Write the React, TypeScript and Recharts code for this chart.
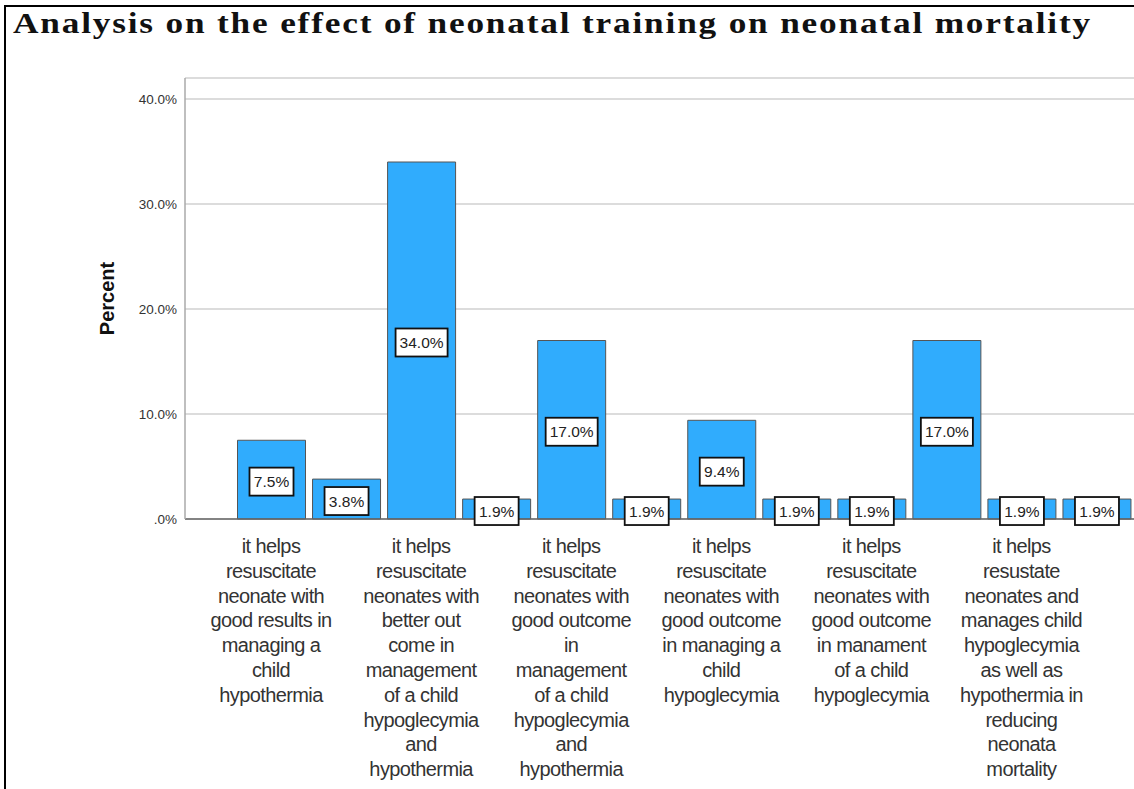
import { Bar, BarChart, CartesianGrid, LabelList, XAxis, YAxis } from 'recharts';

// category wording, one entry per bar; blank entries are categories whose label is skipped on the axis
const categoryLines: string[][] = [
  ['it helps', 'resuscitate', 'neonate with', 'good results in', 'managing a', 'child', 'hypothermia'],
  [],
  ['it helps', 'resuscitate', 'neonates with', 'better out', 'come in', 'management', 'of a child', 'hypoglecymia', 'and', 'hypothermia'],
  [],
  ['it helps', 'resuscitate', 'neonates with', 'good outcome', 'in', 'management', 'of a child', 'hypoglecymia', 'and', 'hypothermia'],
  [],
  ['it helps', 'resuscitate', 'neonates with', 'good outcome', 'in managing a', 'child', 'hypoglecymia'],
  [],
  ['it helps', 'resuscitate', 'neonates with', 'good outcome', 'in manament', 'of a child', 'hypoglecymia'],
  [],
  ['it helps', 'resustate', 'neonates and', 'manages child', 'hypoglecymia', 'as well as', 'hypothermia in', 'reducing', 'neonata', 'mortality'],
  [],
];

const percents = [7.5, 3.8, 34.0, 1.9, 17.0, 1.9, 9.4, 1.9, 1.9, 17.0, 1.9, 1.9];

const yTicks = [0, 10, 20, 30, 40];

const data = percents.map((p, i) => ({
  key: 'c' + i,
  lines: categoryLines[i],
  percent: p,
}));

const fmtPct = (v: number) => (v === 0 ? '.0%' : v.toFixed(1) + '%');

const CategoryTick = (props: any) => {
  const { x, y, index } = props;
  const lines: string[] = categoryLines[index] || [];
  return (
    <text
      x={x}
      y={y}
      textAnchor="middle"
      fill="#333"
      fontFamily="'Liberation Sans', Arial, sans-serif"
      fontSize={20}
      letterSpacing={-0.6}
    >
      {lines.map((l, i) => (
        <tspan key={i} x={x} y={y + 26 + i * 24.8}>
          {l}
        </tspan>
      ))}
    </text>
  );
};

const ValueBox = (props: any) => {
  const { x, y, width, height, value } = props;
  const text = fmtPct(Number(value));
  const cx = x + width / 2;
  const cy = y + height / 2 + 2;
  const w = text.length * 8 + 12;
  const h = 28;
  return (
    <g>
      <rect x={cx - w / 2} y={cy - h / 2} width={w} height={h} fill="#fff" stroke="#111" strokeWidth={1.8} />
      <text
        x={cx}
        y={cy + 5.5}
        textAnchor="middle"
        fill="#222"
        fontFamily="'Liberation Sans', Arial, sans-serif"
        fontSize={15.5}
      >
        {text}
      </text>
    </g>
  );
};

export default function App() {
  return (
    <div
      style={{
        position: 'fixed',
        left: 0,
        top: 0,
        width: 1134,
        height: 789,
        overflow: 'hidden',
        background: '#fff',
      }}
    >
      <BarChart
        width={1134}
        height={789}
        data={data}
        margin={{ top: 78, right: 0, left: 105, bottom: 0 }}
      >
        <CartesianGrid vertical={false} stroke="#d0d0d0" strokeWidth={1.5} />
        <XAxis
          dataKey="key"
          interval={0}
          tick={<CategoryTick />}
          tickLine={false}
          axisLine={{ stroke: '#666', strokeWidth: 1.5 }}
          padding={{ left: 48.5, right: 0 }}
          height={270}
        />
        <YAxis
          domain={[0, 42]}
          ticks={yTicks}
          tickFormatter={fmtPct}
          tickLine={false}
          axisLine={{ stroke: '#aaa', strokeWidth: 1.5 }}
          width={80}
          tick={{ fill: '#333', fontSize: 13.5, fontFamily: "'Liberation Sans', Arial, sans-serif" }}
          label={{
            value: 'Percent',
            angle: -90,
            position: 'insideLeft',
            offset: 0,
            dx: 2,
            style: {
              fill: '#111',
              fontSize: 20,
              fontWeight: 'bold',
              fontFamily: "'Liberation Sans', Arial, sans-serif",
              textAnchor: 'middle',
            },
          }}
        />
        <Bar dataKey="percent" fill="#30acfd" stroke="#555" strokeWidth={1} barSize={68} isAnimationActive={false}>
          <LabelList dataKey="percent" content={<ValueBox />} />
        </Bar>
      </BarChart>
      <svg width={1134} height={60} style={{ position: 'absolute', left: 0, top: 0 }}>
        <line x1={5} y1={6} x2={1134} y2={6} stroke="#000" strokeWidth={2} />
        <text
          x={13}
          y={33}
          textLength={1079}
          lengthAdjust="spacingAndGlyphs"
          letterSpacing={1.5}
          fontFamily="'Liberation Serif', 'Times New Roman', serif"
          fontWeight="bold"
          fontSize={29}
          fill="#111"
        >
          Analysis on the effect of neonatal training on neonatal mortality
        </text>
      </svg>
      <div
        style={{
          position: 'absolute',
          left: 4,
          top: 5,
          width: 2,
          height: 784,
          background: '#000',
        }}
      />
    </div>
  );
}
